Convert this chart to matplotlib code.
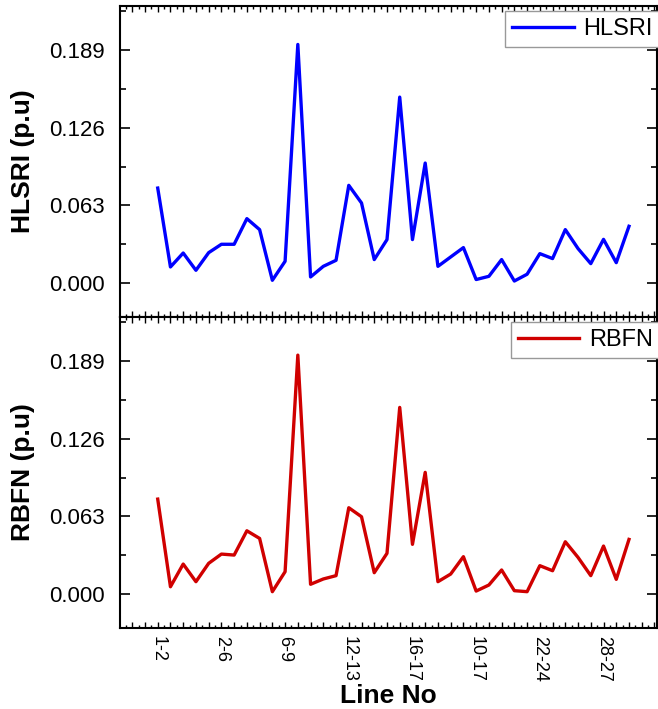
import numpy as np
import matplotlib
matplotlib.use("Agg")
import matplotlib.pyplot as plt
from matplotlib.ticker import MultipleLocator, AutoMinorLocator

plt.rcParams['font.family'] = ['Liberation Sans', 'DejaVu Sans']

# IEEE 30-bus lines 1..38
lineas = ['1-2', '1-3', '2-4', '3-4', '2-5', '2-6', '4-6', '5-7', '6-7', '6-8',
          '6-9', '6-10', '9-11', '9-10', '4-12', '12-13', '12-14', '12-15', '12-16', '14-15',
          '16-17', '15-18', '18-19', '19-20', '10-20', '10-17', '10-21', '10-22', '21-22', '15-23',
          '22-24', '23-24', '24-25', '25-26', '25-27', '28-27', '27-29', '27-30']

hlsri = [0.0770, 0.0130, 0.0243, 0.0103, 0.0246, 0.0314, 0.0314, 0.0522, 0.0433, 0.0022,
         0.0176, 0.1935, 0.0049, 0.0135, 0.0184, 0.0792, 0.0649, 0.0190, 0.0352, 0.1508,
         0.0352, 0.0973, 0.0135, 0.0211, 0.0287, 0.0028, 0.0054, 0.0190, 0.0016, 0.0071,
         0.0238, 0.0198, 0.0433, 0.0279, 0.0157, 0.0354, 0.0165, 0.0460]

rbfn = [0.0770, 0.0059, 0.0243, 0.0100, 0.0249, 0.0324, 0.0316, 0.0513, 0.0451, 0.0019,
        0.0181, 0.1938, 0.0079, 0.0122, 0.0149, 0.0700, 0.0627, 0.0173, 0.0330, 0.1514,
        0.0403, 0.0987, 0.0100, 0.0162, 0.0303, 0.0024, 0.0073, 0.0195, 0.0027, 0.0019,
        0.0230, 0.0189, 0.0424, 0.0297, 0.0149, 0.0389, 0.0119, 0.0443]

series = [('HLSRI', hlsri, '#0000FF', 'HLSRI (p.u)'),
          ('RBFN', rbfn, '#D00000', 'RBFN (p.u)')]

x = np.arange(1, len(lineas) + 1)

fig = plt.figure(figsize=(6.58, 7.09), dpi=100)
ax_top = fig.add_axes([0.1824, 0.5529, 0.8161, 0.4386])
ax_bot = fig.add_axes([0.1824, 0.1142, 0.8161, 0.4386], sharex=ax_top)

# ticks en cada linea, etiqueta cada 5
xticks = np.arange(-1, 41)
xlabels = [lineas[i - 1] if 1 <= i <= len(lineas) and (i - 1) % 5 == 0 else '' for i in xticks]

for ax, (nombre, vals, color, ylab) in zip([ax_top, ax_bot], series):
    ax.plot(x, vals, color=color, lw=2.4, label=nombre)
    ax.set_ylim(-0.0276, 0.2247)
    ax.set_xlim(-1.96, 40.2)
    ax.yaxis.set_major_locator(MultipleLocator(0.063))
    ax.yaxis.set_minor_locator(MultipleLocator(0.0315))
    ax.yaxis.set_major_formatter(plt.FormatStrFormatter('%.3f'))
    ax.set_xticks(xticks)
    ax.set_xticklabels(xlabels)
    ax.xaxis.set_minor_locator(AutoMinorLocator(2))
    ax.tick_params(axis='y', which='major', direction='in', length=7, width=1.2,
                   left=True, right=True, labelsize=16, pad=11)
    ax.tick_params(axis='y', which='minor', direction='in', length=4, width=1.2,
                   left=True, right=True)
    ax.tick_params(axis='x', which='major', direction='in', length=4, width=1.0,
                   top=True, bottom=True, labelsize=13, labelrotation=270, pad=6)
    ax.tick_params(axis='x', which='minor', direction='in', length=2, width=1.0,
                   top=True, bottom=True)
    for sp in ax.spines.values():
        sp.set_linewidth(1.5)
    ax.set_ylabel(ylab, fontsize=19, fontweight='bold')
    ax.yaxis.set_label_coords(-0.158, 0.5)
    leg = ax.legend(loc='upper right', bbox_to_anchor=(1.005, 0.985), fontsize=17,
                    handlelength=2.6, borderaxespad=0.0, fancybox=False,
                    framealpha=1, borderpad=0.3, handletextpad=0.4)
    leg.get_frame().set_edgecolor('#999999')
    leg.get_frame().set_linewidth(1.0)

ax_top.tick_params(axis='x', labelbottom=False)
ax_bot.set_xlabel('Line No', fontsize=19, fontweight='bold', labelpad=1)

fig.savefig('out.png', dpi=100)
